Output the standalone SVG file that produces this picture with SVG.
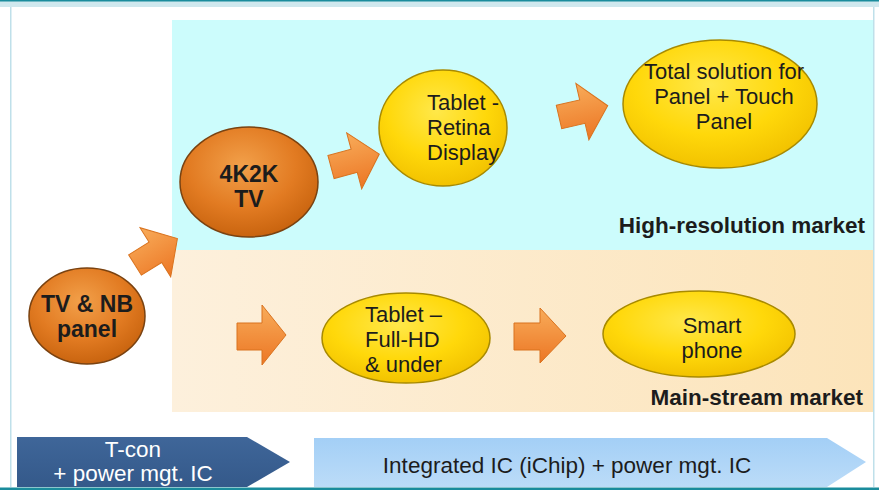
<svg xmlns="http://www.w3.org/2000/svg" width="879" height="490" viewBox="0 0 879 490">
  <defs>
    <radialGradient id="gOrange" cx="45%" cy="35%" r="65%">
      <stop offset="0" stop-color="#f2a04a"/>
      <stop offset="0.6" stop-color="#e27b22"/>
      <stop offset="1" stop-color="#c9640f"/>
    </radialGradient>
    <radialGradient id="gYellow" cx="45%" cy="35%" r="65%">
      <stop offset="0" stop-color="#ffe84a"/>
      <stop offset="0.6" stop-color="#ffd80a"/>
      <stop offset="1" stop-color="#f2c200"/>
    </radialGradient>
    <linearGradient id="gArrow" x1="0" y1="0" x2="0" y2="1">
      <stop offset="0" stop-color="#f8ac5a"/>
      <stop offset="1" stop-color="#ec7624"/>
    </linearGradient>
    <linearGradient id="gPeach" x1="0" y1="0" x2="1" y2="0">
      <stop offset="0" stop-color="#fdf0dc"/>
      <stop offset="1" stop-color="#fce4ba"/>
    </linearGradient>
    <linearGradient id="gDark" x1="0" y1="0" x2="0" y2="1">
      <stop offset="0" stop-color="#3f6699"/>
      <stop offset="1" stop-color="#34598a"/>
    </linearGradient>
    <linearGradient id="gLight" x1="0" y1="0" x2="0" y2="1">
      <stop offset="0" stop-color="#a3cff6"/>
      <stop offset="1" stop-color="#bcdcf8"/>
    </linearGradient>
    <polygon id="arrowShape" points="0,-12 24,-12 24,-29 50,0 24,29 24,12 0,12"/>
  </defs>
  <style>
    .orange { fill: url(#gOrange); stroke: #7a4210; stroke-width: 1.5; }
    .yellow { fill: url(#gYellow); stroke: #a88a00; stroke-width: 1.5; }
    .arrow { fill: url(#gArrow); stroke: #d9731f; stroke-width: 1; }
    .t { font-family: "Liberation Sans", Arial, sans-serif; fill: #1c1c1c; }
    .nb { font-size: 23px; font-weight: bold; text-anchor: middle; }
    .nn { font-size: 22px; }
    .mk { font-size: 22.5px; font-weight: bold; text-anchor: end; }
    .bt { font-family: "Liberation Sans", Arial, sans-serif; font-size: 22.5px; text-anchor: middle; }
  </style>

  <!-- frame -->
  <rect x="0" y="0" width="879" height="490" fill="#ffffff"/>
  <rect x="0" y="0" width="879" height="7" fill="#cfe8ee"/>
  <rect x="0" y="0" width="879" height="1.5" fill="#1a8c9c"/>
  <rect x="10" y="7" width="1.5" height="480" fill="#bfe0ea"/>
  <rect x="873" y="7" width="1.5" height="480" fill="#bfe0ea"/>
  <rect x="0" y="487.5" width="879" height="2.5" fill="#1a8c9c"/>

  <!-- market regions -->
  <g id="high-resolution-market">
    <rect x="172" y="20" width="701" height="230" fill="#ccfcfc"/>
    <text class="t mk" x="865" y="233">High-resolution market</text>
  </g>
  <g id="main-stream-market">
    <rect x="172" y="250" width="701" height="162" fill="url(#gPeach)"/>
    <text class="t mk" x="863" y="405">Main-stream market</text>
  </g>

  <!-- connectors -->
  <g id="connectors">
    <use href="#arrowShape" class="arrow" transform="translate(135,265) rotate(-32)"/>
    <use href="#arrowShape" class="arrow" transform="translate(331,167) rotate(-15)"/>
    <use href="#arrowShape" class="arrow" transform="translate(559,117) rotate(-13)"/>
    <polygon class="arrow" points="237,323 262,323 262,305 286,335 262,365 262,350 237,350"/>
    <polygon class="arrow" points="514,323 540,323 540,308 566,336 540,363 540,350 514,350"/>
  </g>

  <!-- nodes -->
  <g id="tv-nb-panel">
    <ellipse class="orange" cx="87" cy="316" rx="58" ry="48"/>
    <text class="t nb" x="87" y="312">TV &amp; NB</text>
    <text class="t nb" x="87" y="337">panel</text>
  </g>
  <g id="tv-4k2k">
    <ellipse class="orange" cx="249" cy="182" rx="69" ry="55"/>
    <text class="t nb" x="249" y="182">4K2K</text>
    <text class="t nb" x="249" y="207">TV</text>
  </g>
  <g id="tablet-retina">
    <ellipse class="yellow" cx="443" cy="128" rx="64" ry="58"/>
    <text class="t nn" x="427" y="110">Tablet -</text>
    <text class="t nn" x="427" y="135">Retina</text>
    <text class="t nn" x="427" y="160">Display</text>
  </g>
  <g id="total-solution">
    <ellipse class="yellow" cx="720" cy="104" rx="97" ry="64"/>
    <text class="t nn" x="724" y="79" text-anchor="middle">Total solution for</text>
    <text class="t nn" x="724" y="104" text-anchor="middle">Panel + Touch</text>
    <text class="t nn" x="724" y="129" text-anchor="middle">Panel</text>
  </g>
  <g id="tablet-fullhd">
    <ellipse class="yellow" cx="406" cy="338" rx="84" ry="45"/>
    <text class="t nn" x="365" y="322">Tablet –</text>
    <text class="t nn" x="365" y="347">Full-HD</text>
    <text class="t nn" x="365" y="372">&amp; under</text>
  </g>
  <g id="smart-phone">
    <ellipse class="yellow" cx="699" cy="334" rx="96" ry="43"/>
    <text class="t nn" x="712" y="333" text-anchor="middle">Smart</text>
    <text class="t nn" x="712" y="358" text-anchor="middle">phone</text>
  </g>

  <!-- IC stages -->
  <g id="tcon-stage">
    <polygon points="17,437 247,437 290,462 247,487 17,487" fill="url(#gDark)"/>
    <text class="bt" x="133" y="457" fill="#ffffff">T-con</text>
    <text class="bt" x="133" y="481" fill="#ffffff">+ power mgt. IC</text>
  </g>
  <g id="ichip-stage">
    <polygon points="314,438 827,438 866,462 827,487 314,487" fill="url(#gLight)"/>
    <text class="bt" x="567" y="473" fill="#1c1c1c">Integrated IC (iChip) + power mgt. IC</text>
  </g>
</svg>
